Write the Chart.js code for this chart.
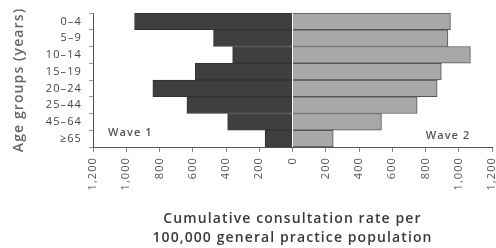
<!DOCTYPE html>
<html><head><meta charset="utf-8">
<script src="https://cdn.jsdelivr.net/npm/chart.js@4/dist/chart.umd.min.js"></script>
<style>html,body{margin:0;padding:0;background:#fff}#w{width:496px;height:248px}</style>
</head><body><div id="w"><canvas id="c"></canvas></div>
<script>
const ageGroups = ['0–4','5–9','10–14','15–19','20–24','25–44','45–64','≥65'];
const wave1 = [950, 475, 360, 585, 840, 635, 390, 165];
const wave2 = [950, 935, 1070, 895, 870, 750, 535, 245];
const xTicks = [-1200,-1000,-800,-600,-400,-200,0,200,400,600,800,1000,1200];
const seriesLabels = ['Wave 1','Wave 2'];
const FONT = '"Open Sans", "Noto Sans", sans-serif';

const spacing = {
  id: 'spacing',
  beforeUpdate(chart) { chart.ctx.letterSpacing = '1.1px'; },
  beforeDraw(chart) { chart.ctx.letterSpacing = '1.1px'; }
};

const waveLabels = {
  id: 'waveLabels',
  afterDatasetsDraw(chart) {
    const {ctx, scales: {x, y}} = chart;
    ctx.save();
    ctx.font = '600 11px ' + FONT;
    ctx.fillStyle = '#555';
    ctx.textBaseline = 'middle';
    ctx.textAlign = 'left';
    ctx.fillText(seriesLabels[0], x.getPixelForValue(-1110), y.getPixelForValue(7) - 6);
    ctx.textAlign = 'right';
    ctx.fillText(seriesLabels[1], x.getPixelForValue(1070), y.getPixelForValue(7) - 3);
    ctx.restore();
  }
};

new Chart(document.getElementById('c'), {
  type: 'bar',
  data: {
    labels: ageGroups,
    datasets: [
      { label: seriesLabels[0], data: wave1.map(v => -v), backgroundColor: '#3f3f3f', borderColor: '#333', borderWidth: 1, categoryPercentage: 1, barPercentage: 1 },
      { label: seriesLabels[1], data: wave2, backgroundColor: '#a8a8a8', borderColor: '#555', borderWidth: 1, categoryPercentage: 1, barPercentage: 1 }
    ]
  },
  options: {
    indexAxis: 'y',
    responsive: true,
    maintainAspectRatio: false,
    animation: false,
    layout: { padding: { top: 13, right: 4, bottom: 0, left: 0 } },
    plugins: { legend: { display: false }, tooltip: { enabled: false } },
    scales: {
      x: {
        stacked: true, min: -1200, max: 1200,
        afterBuildTicks(s) { s.ticks = xTicks.map(v => ({ value: v })); },
        afterFit(s) { s.height = 101; s.paddingLeft = 0; s.paddingRight = 0; },
        ticks: { minRotation: 90, maxRotation: 90, color: '#555', font: { family: FONT, size: 11 }, padding: 5,
          callback: v => Math.abs(v).toLocaleString('en-US') },
        grid: { display: true, drawOnChartArea: false, tickLength: 5, color: '#888' },
        border: { display: true, color: '#555', width: 1 },
        title: { display: true, text: ['Cumulative consultation rate per', '100,000 general practice population'],
          color: '#3a3a3a', font: { family: FONT, size: 14, weight: '600', lineHeight: 1.35 }, padding: { top: 0, bottom: 1 } }
      },
      y: {
        stacked: true,
        afterFit(s) { s.width = 93; s.paddingTop = 0; s.paddingBottom = 0; },
        ticks: { autoSkip: false, color: '#444', font: { family: FONT, size: 11 }, padding: 7 },
        grid: { display: true, drawOnChartArea: false, tickLength: 4, color: '#999' },
        border: { display: true, color: '#555', width: 1 },
        title: { display: true, text: 'Age groups (years)', color: '#666', font: { family: FONT, size: 14, weight: '600' }, padding: { top: 11, bottom: 0 } }
      }
    }
  },
  plugins: [spacing, waveLabels]
});
</script></body></html>
